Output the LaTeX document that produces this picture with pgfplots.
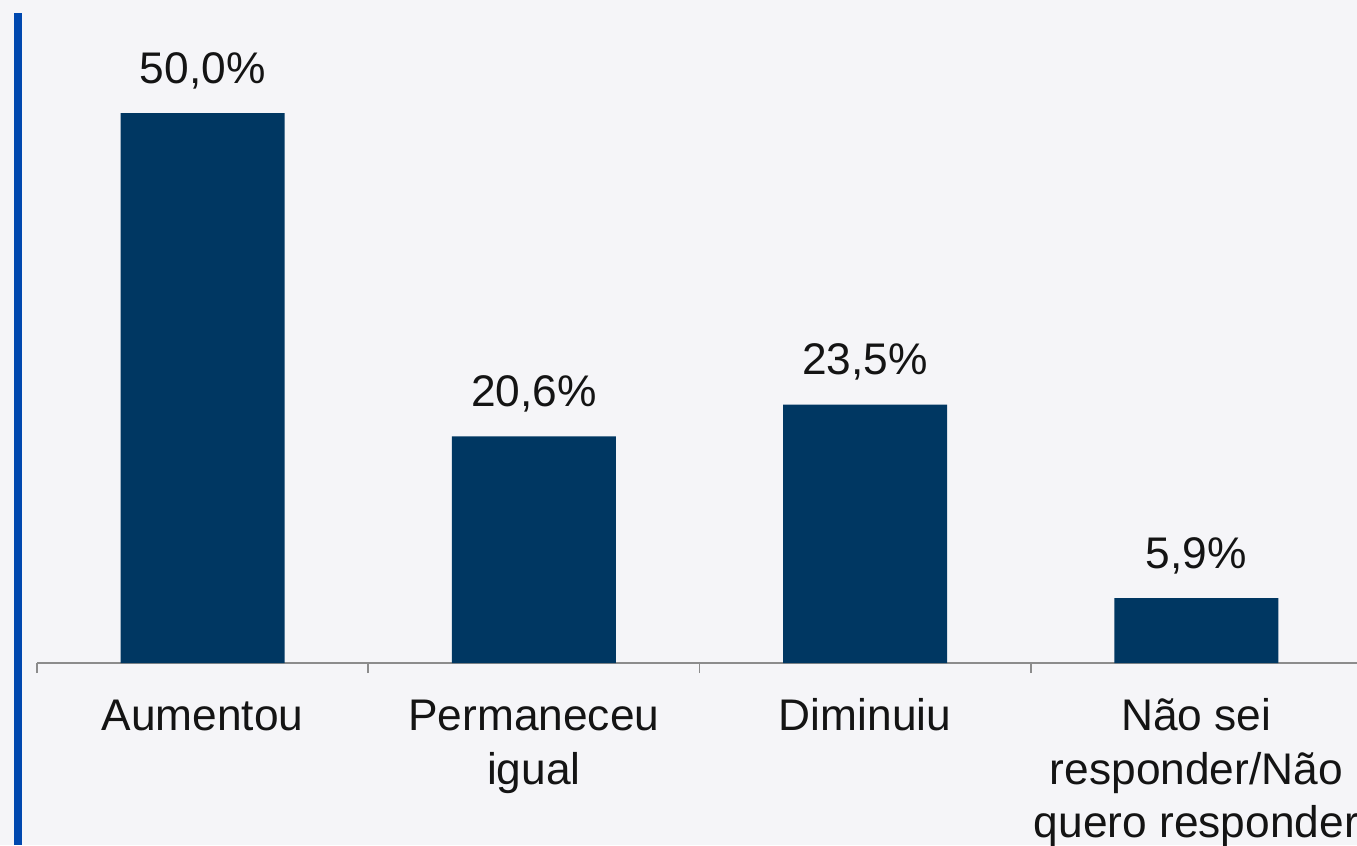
\documentclass[border=0pt]{standalone}
\usepackage{fontspec}
\setmainfont{Liberation Sans}
\usepackage{pgfplots}
\pgfplotsset{compat=1.18}
\definecolor{bgc}{RGB}{245,245,248}
\definecolor{barc}{RGB}{0,55,98}
\definecolor{bluel}{RGB}{0,72,175}
\definecolor{axc}{RGB}{140,140,140}
\definecolor{txt}{RGB}{20,20,20}
\newcommand{\fs}{\rule{0pt}{12pt}}
\begin{document}
\begin{tikzpicture}
\fill[bgc,use as bounding box] (0,0) rectangle (135.7mm,84.5mm);
\clip (0,0) rectangle (135.7mm,84.5mm);
\fill[bluel] (1.4mm,0) rectangle (2.2mm,83.2mm);
\begin{axis}[
  at={(3.7mm,18.2mm)}, anchor=south west,
  scale only axis, width=132.5mm, height=60.5mm,
  xmin=0, xmax=4, ymin=0, ymax=55,
  clip=false,
  axis x line*=bottom, axis y line=none,
  axis line style={axc, line width=0.45pt},
  xtick={0,1,2,3,4}, xticklabels={},
  tick align=outside, major tick length=1mm,
  tick style={axc, line width=0.45pt},
  extra x ticks={0.5,1.5,2.5,3.5},
  extra x tick labels={\fs Aumentou, \fs Permaneceu\\igual, \fs Diminuiu, \fs Não sei\\responder/Não\\quero responder},
  extra x tick style={major tick length=0pt, tick style={draw=none},
    ticklabel style={anchor=north, inner sep=0pt, yshift=-2.48mm, align=center, text=txt,
      font=\fontsize{12.6}{15.2}\selectfont}},
  ybar, bar width=16.4mm,
  nodes near coords={\pgfmathprintnumber[fixed,fixed zerofill,precision=1,use comma,assume math mode=true]{\pgfplotspointmeta}\%},
  every node near coord/.append style={anchor=base, yshift=3mm, text=txt, font=\fontsize{12.6}{15.2}\selectfont},
]
\addplot[fill=barc, draw=none] coordinates {(0.5,50.0) (1.5,20.6) (2.5,23.5) (3.5,5.9)};
\end{axis}
\end{tikzpicture}
\end{document}
